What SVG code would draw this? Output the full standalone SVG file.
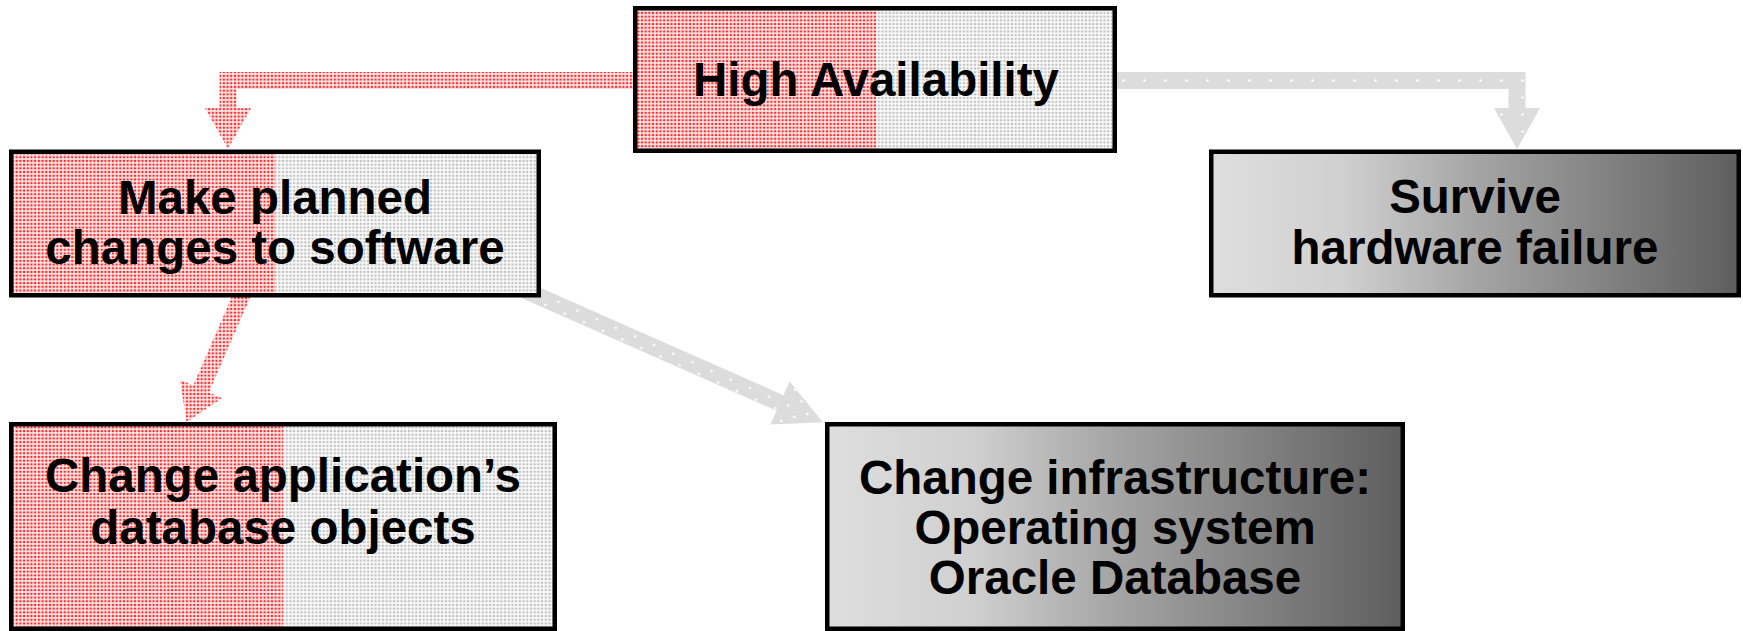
<svg xmlns="http://www.w3.org/2000/svg" width="1743" height="631" viewBox="0 0 1743 631">
  <style>
    .lbl { font-family: "Liberation Sans", Arial, Helvetica, sans-serif; font-weight: bold; font-size: 47.5px; fill: #000; text-anchor: middle; }
    .border { fill: none; stroke: #000; stroke-width: 4.5; }
    .red { fill: url(#redDots); }
    .grey { fill: url(#greyDots); }
    .garrow { fill: url(#arrowDots); }
  </style>
  <defs>
    <pattern id="redDots" width="3.7" height="3.7" patternUnits="userSpaceOnUse">
      <rect width="3.7" height="3.7" fill="#ffe6e6"/>
      <circle cx="1.85" cy="1.85" r="1.2" fill="#ff2a2a"/>
    </pattern>
    <pattern id="greyDots" width="3.7" height="3.7" patternUnits="userSpaceOnUse">
      <rect width="3.7" height="3.7" fill="#fafafa"/>
      <circle cx="1.85" cy="1.85" r="1.25" fill="#c0c0c0"/>
    </pattern>
    <pattern id="arrowDots" x="0" y="72" width="21" height="17" patternUnits="userSpaceOnUse">
      <rect width="21" height="17" fill="#dcdcdc"/>
      <circle cx="10.5" cy="8.5" r="1.3" fill="#ffffff"/>
    </pattern>
    <pattern id="arrowDotsDiag" x="0" y="0" width="21" height="17" patternUnits="userSpaceOnUse" patternTransform="translate(536.5,287.25) rotate(24.2)">
      <rect width="21" height="17" fill="#dcdcdc"/>
      <circle cx="5" cy="4.5" r="1.3" fill="#ffffff"/>
      <circle cx="15.5" cy="12.5" r="1.3" fill="#ffffff"/>
    </pattern>
    <linearGradient id="shade" x1="0" y1="0" x2="1" y2="0">
      <stop offset="0" stop-color="#dedede"/>
      <stop offset="0.25" stop-color="#d0d0d0"/>
      <stop offset="0.5" stop-color="#a5a5a5"/>
      <stop offset="1" stop-color="#5e5e5e"/>
    </linearGradient>
  </defs>

  <rect width="1743" height="631" fill="#ffffff"/>

  <g id="connectors">
    <!-- High Availability -> Make planned changes (red, elbow) -->
    <polygon class="red" points="640,72 219.5,72 219.5,108 205,108 228,149 251,108 236.5,108 236.5,89 640,89"/>
    <!-- High Availability -> Survive hardware failure (grey, elbow) -->
    <polygon class="garrow" points="1110,72 1525.5,72 1525.5,108 1540,108 1517,149 1494,108 1508.5,108 1508.5,89 1110,89"/>
    <!-- Make planned changes -> Change application's database objects (red, diagonal) -->
    <polygon class="red" points="247.2,261.6 193.2,385.6 179.9,379.8 186.6,422 222.1,398.2 208.8,392.4 262.8,268.4"/>
    <!-- Make planned changes -> Change infrastructure (grey, diagonal) -->
    <polygon fill="url(#arrowDotsDiag)" points="485.3,263.35 783.5,395.25 789.6,381.6 822.9,422.3 770.4,424.4 776.5,410.75 478.3,278.85"/>
  </g>

  <g id="node-high-availability">
    <rect class="red" x="635" y="8" width="241" height="143"/>
    <rect class="grey" x="876" y="8" width="239" height="143"/>
    <rect class="border" x="635.25" y="8.25" width="479.5" height="142.5"/>
    <text class="lbl" x="876" y="96">High Availability</text>
  </g>

  <g id="node-make-planned">
    <rect class="red" x="11" y="151.5" width="264" height="144"/>
    <rect class="grey" x="275" y="151.5" width="264" height="144"/>
    <rect class="border" x="11.25" y="151.75" width="527.5" height="143.5"/>
    <text class="lbl" x="275" y="214">Make planned</text>
    <text class="lbl" x="275" y="264">changes to software</text>
  </g>

  <g id="node-survive">
    <rect class="border" x="1211.25" y="151.75" width="527.5" height="143.5" style="fill:url(#shade)"/>
    <text class="lbl" x="1475" y="213">Survive</text>
    <text class="lbl" x="1475" y="264">hardware failure</text>
  </g>

  <g id="node-change-application">
    <rect class="red" x="11" y="424" width="272" height="205"/>
    <rect class="grey" x="283" y="424" width="272" height="205"/>
    <rect class="border" x="11.25" y="424.25" width="543.5" height="204.5"/>
    <text class="lbl" x="283" y="492">Change application’s</text>
    <text class="lbl" x="283" y="544">database objects</text>
  </g>

  <g id="node-change-infrastructure">
    <rect class="border" x="827.25" y="424.25" width="575.5" height="204.5" style="fill:url(#shade)"/>
    <text class="lbl" x="1115" y="494">Change infrastructure:</text>
    <text class="lbl" x="1115" y="544">Operating system</text>
    <text class="lbl" x="1115" y="594">Oracle Database</text>
  </g>
</svg>
